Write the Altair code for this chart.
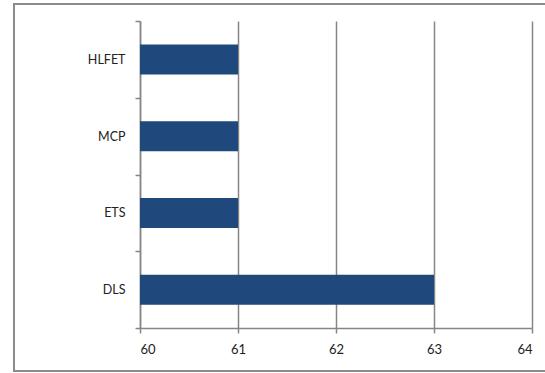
import altair as alt
import pandas as pd

# Scheduling algorithms and their scores
algorithms = ["HLFET", "MCP", "ETS", "DLS"]
scores = [61, 61, 61, 63]

df = pd.DataFrame({"algorithm": algorithms, "score": scores})

GRID = "#868686"
BAR = "#1F497D"
FONT = "Lato"

bars = alt.Chart(df).mark_bar(color=BAR, size=30, clip=True).encode(
    x=alt.X(
        "score:Q",
        scale=alt.Scale(domain=[60, 64], nice=False, zero=False),
        axis=alt.Axis(
            values=[60, 61, 62, 63, 64],
            format="d",
            title=None,
            grid=True,
            gridColor=GRID,
            gridWidth=1.5,
            domainColor=GRID,
            domainWidth=1.5,
            tickColor=GRID,
            tickWidth=1.5,
            tickSize=5,
            labelPadding=10,
            labelFontSize=13,
            labelFont=FONT,
            labelColor="#222222",
        ),
    ),
    y=alt.Y(
        "algorithm:N",
        sort=algorithms,
        scale=alt.Scale(paddingInner=0, paddingOuter=0),
        axis=alt.Axis(
            title=None,
            tickBand="extent",
            domainColor=GRID,
            domainWidth=1.5,
            tickColor=GRID,
            tickWidth=1.5,
            tickSize=5,
            labelPadding=10,
            labelFontSize=12.5,
            labelFont=FONT,
            labelColor="#222222",
        ),
    ),
)

# Frame around the whole chart
frame = alt.Chart(df).mark_rect(
    fill=None, stroke="#8C8C8C", strokeWidth=2
).encode(
    x=alt.value(-126),
    x2=alt.value(420),
    y=alt.value(-17),
    y2=alt.value(350),
)

chart = (
    alt.layer(frame, bars)
    .properties(
        width=392,
        height=307,
        autosize=alt.AutoSizeParams(type="none"),
        padding={"left": 140, "top": 21, "right": 13, "bottom": 45},
        background="white",
    )
    .configure_view(stroke=None)
)

chart.save("out.html", embed_options={"renderer": "svg", "actions": False})
